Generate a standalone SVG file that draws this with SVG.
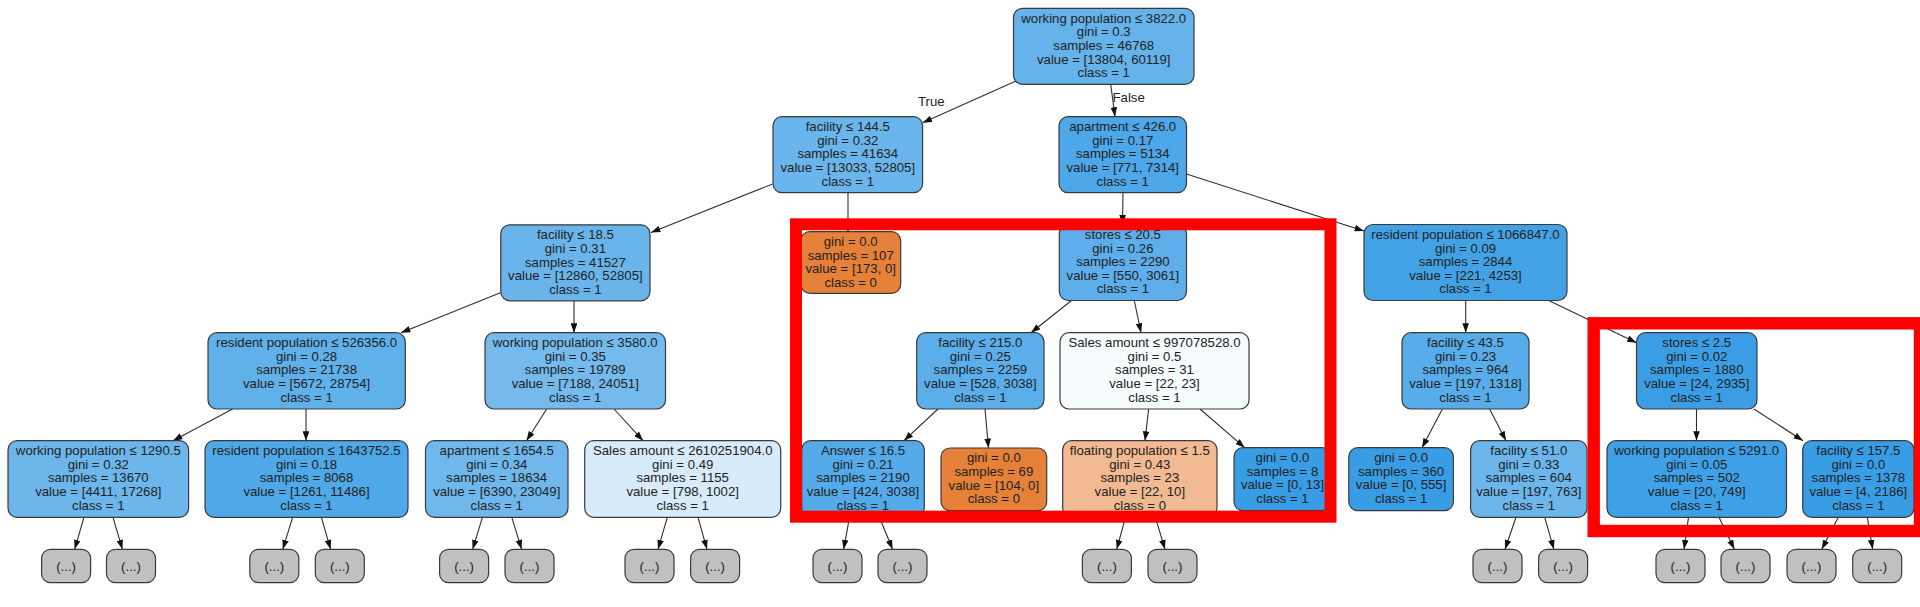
<svg xmlns="http://www.w3.org/2000/svg" width="1920" height="607" viewBox="0 0 1920 607">
<defs>
<style>
.nd rect{stroke:#3a3a3a;stroke-width:1.2}
.nd text,.lbl{font-family:"Liberation Sans",Arial,sans-serif;font-size:13.2px;fill:#222}
.nd text{text-anchor:middle}
.lf rect{fill:#c0c0c0}
#edges line{stroke:#2e2e2e;stroke-width:1.1;marker-end:url(#ah)}
.hl{fill:none;stroke:#ff0000}
</style>
<marker id="ah" viewBox="0 0 10 7" refX="10" refY="3.5" markerWidth="9.5" markerHeight="6.6" markerUnits="userSpaceOnUse" orient="auto"><path d="M0,0L10,3.5L0,7z" fill="#111"/></marker>
</defs>
<rect width="1920" height="607" fill="#fff"/>
<g id="edges">
<line x1="1016" y1="81" x2="922.6" y2="122.7"/>
<line x1="1110.7" y1="84.3" x2="1115" y2="116.7"/>
<line x1="772.6" y1="184" x2="651" y2="232.5"/>
<line x1="848" y1="192.7" x2="848" y2="231.7"/>
<line x1="1123" y1="192.7" x2="1122.5" y2="224.5"/>
<line x1="1186.5" y1="174" x2="1364" y2="231"/>
<line x1="501" y1="292.5" x2="401" y2="332.7"/>
<line x1="574" y1="301" x2="574" y2="332.7"/>
<line x1="1071.5" y1="300.5" x2="1031" y2="332.7"/>
<line x1="1134.3" y1="300.5" x2="1141" y2="332.7"/>
<line x1="1465.7" y1="300.5" x2="1465.7" y2="332.7"/>
<line x1="1547.7" y1="300" x2="1636.5" y2="342.7"/>
<line x1="232.6" y1="409" x2="173" y2="440.7"/>
<line x1="306" y1="409" x2="306" y2="440.7"/>
<line x1="546.7" y1="409" x2="526.5" y2="440.7"/>
<line x1="614" y1="409" x2="643" y2="440.7"/>
<line x1="938" y1="409" x2="904" y2="440.7"/>
<line x1="985" y1="409" x2="988.5" y2="448"/>
<line x1="1148.6" y1="409" x2="1145" y2="440.7"/>
<line x1="1200" y1="409" x2="1244.7" y2="447.7"/>
<line x1="1442.4" y1="409" x2="1422" y2="447.7"/>
<line x1="1489.6" y1="409" x2="1506" y2="440.7"/>
<line x1="1696.5" y1="409" x2="1696.5" y2="440.7"/>
<line x1="1754" y1="409" x2="1803" y2="440.7"/>
<line x1="83.9" y1="517.3" x2="74.7" y2="549.3"/>
<line x1="113" y1="517.3" x2="122.4" y2="549.3"/>
<line x1="292.6" y1="517.3" x2="282.8" y2="549.3"/>
<line x1="321.4" y1="517.3" x2="330.6" y2="549.3"/>
<line x1="482.4" y1="517.3" x2="472.6" y2="549.3"/>
<line x1="511.8" y1="517.3" x2="521.6" y2="549.3"/>
<line x1="667.3" y1="517.3" x2="658" y2="549.3"/>
<line x1="698" y1="517.3" x2="707" y2="549.3"/>
<line x1="849.5" y1="517.3" x2="843.6" y2="549.3"/>
<line x1="879.4" y1="517.3" x2="892.6" y2="549.3"/>
<line x1="1125.5" y1="517.3" x2="1116.7" y2="549.3"/>
<line x1="1155.4" y1="517.3" x2="1165" y2="549.3"/>
<line x1="1516" y1="517.3" x2="1505" y2="549.3"/>
<line x1="1544.7" y1="517.3" x2="1553.9" y2="549.3"/>
<line x1="1688.5" y1="517.3" x2="1684" y2="549.3"/>
<line x1="1719" y1="517.3" x2="1734.4" y2="549.3"/>
<line x1="1838.3" y1="517.3" x2="1821.7" y2="549.3"/>
<line x1="1867.3" y1="517.3" x2="1872.7" y2="549.3"/>
<text class="lbl" x="918" y="105.5">True</text>
<text class="lbl" x="1112.5" y="101.7">False</text>
</g>

<g id="n_root" class="nd"><rect x="1013.5" y="8.3" width="180.5" height="76" rx="9" fill="#66b3eb"/>
<text x="1103.75" y="22.8">working population ≤ 3822.0<tspan x="1103.75" dy="13.6">gini = 0.3</tspan><tspan x="1103.75" dy="13.6">samples = 46768</tspan><tspan x="1103.75" dy="13.6">value = [13804, 60119]</tspan><tspan x="1103.75" dy="13.6">class = 1</tspan></text></g>

<g id="n_fac144" class="nd"><rect x="773" y="116.7" width="149.6" height="76" rx="9" fill="#6ab5eb"/>
<text x="847.8" y="131.2">facility ≤ 144.5<tspan x="847.8" dy="13.6">gini = 0.32</tspan><tspan x="847.8" dy="13.6">samples = 41634</tspan><tspan x="847.8" dy="13.6">value = [13033, 52805]</tspan><tspan x="847.8" dy="13.6">class = 1</tspan></text></g>

<g id="n_apt426" class="nd"><rect x="1059" y="116.7" width="127.5" height="76" rx="9" fill="#4ea7e8"/>
<text x="1122.75" y="131.2">apartment ≤ 426.0<tspan x="1122.75" dy="13.6">gini = 0.17</tspan><tspan x="1122.75" dy="13.6">samples = 5134</tspan><tspan x="1122.75" dy="13.6">value = [771, 7314]</tspan><tspan x="1122.75" dy="13.6">class = 1</tspan></text></g>

<g id="n_fac18" class="nd"><rect x="500.8" y="224.8" width="149.2" height="76" rx="9" fill="#69b5eb"/>
<text x="575.4" y="239.3">facility ≤ 18.5<tspan x="575.4" dy="13.6">gini = 0.31</tspan><tspan x="575.4" dy="13.6">samples = 41527</tspan><tspan x="575.4" dy="13.6">value = [12860, 52805]</tspan><tspan x="575.4" dy="13.6">class = 1</tspan></text></g>

<g id="n_g107" class="nd"><rect x="800.7" y="231.7" width="100" height="61.6" rx="9" fill="#e58139"/>
<text x="850.7" y="246">gini = 0.0<tspan x="850.7" dy="13.6">samples = 107</tspan><tspan x="850.7" dy="13.6">value = [173, 0]</tspan><tspan x="850.7" dy="13.6">class = 0</tspan></text></g>

<g id="n_st20" class="nd"><rect x="1059.3" y="224.5" width="127.2" height="76" rx="9" fill="#5daeea"/>
<text x="1122.9" y="239">stores ≤ 20.5<tspan x="1122.9" dy="13.6">gini = 0.26</tspan><tspan x="1122.9" dy="13.6">samples = 2290</tspan><tspan x="1122.9" dy="13.6">value = [550, 3061]</tspan><tspan x="1122.9" dy="13.6">class = 1</tspan></text></g>

<g id="n_res1066" class="nd"><rect x="1364" y="224.5" width="203" height="76" rx="9" fill="#43a2e6"/>
<text x="1465.5" y="239">resident population ≤ 1066847.0<tspan x="1465.5" dy="13.6">gini = 0.09</tspan><tspan x="1465.5" dy="13.6">samples = 2844</tspan><tspan x="1465.5" dy="13.6">value = [221, 4253]</tspan><tspan x="1465.5" dy="13.6">class = 1</tspan></text></g>

<g id="n_res526" class="nd"><rect x="208" y="332.7" width="197.3" height="76.3" rx="9" fill="#60b0ea"/>
<text x="306.6" y="347.2">resident population ≤ 526356.0<tspan x="306.6" dy="13.6">gini = 0.28</tspan><tspan x="306.6" dy="13.6">samples = 21738</tspan><tspan x="306.6" dy="13.6">value = [5672, 28754]</tspan><tspan x="306.6" dy="13.6">class = 1</tspan></text></g>

<g id="n_wp3580" class="nd"><rect x="485" y="332.7" width="180.5" height="76.3" rx="9" fill="#74baed"/>
<text x="575.25" y="347.2">working population ≤ 3580.0<tspan x="575.25" dy="13.6">gini = 0.35</tspan><tspan x="575.25" dy="13.6">samples = 19789</tspan><tspan x="575.25" dy="13.6">value = [7188, 24051]</tspan><tspan x="575.25" dy="13.6">class = 1</tspan></text></g>

<g id="n_fac215" class="nd"><rect x="916.7" y="332.7" width="127.3" height="76.3" rx="9" fill="#5baeea"/>
<text x="980.35" y="347.2">facility ≤ 215.0<tspan x="980.35" dy="13.6">gini = 0.25</tspan><tspan x="980.35" dy="13.6">samples = 2259</tspan><tspan x="980.35" dy="13.6">value = [528, 3038]</tspan><tspan x="980.35" dy="13.6">class = 1</tspan></text></g>

<g id="n_sa997" class="nd"><rect x="1060" y="332.7" width="189" height="76.3" rx="9" fill="#f6fbfe"/>
<text x="1154.5" y="347.2">Sales amount ≤ 997078528.0<tspan x="1154.5" dy="13.6">gini = 0.5</tspan><tspan x="1154.5" dy="13.6">samples = 31</tspan><tspan x="1154.5" dy="13.6">value = [22, 23]</tspan><tspan x="1154.5" dy="13.6">class = 1</tspan></text></g>

<g id="n_fac43" class="nd"><rect x="1402" y="332.7" width="127" height="76.3" rx="9" fill="#57ace9"/>
<text x="1465.5" y="347.2">facility ≤ 43.5<tspan x="1465.5" dy="13.6">gini = 0.23</tspan><tspan x="1465.5" dy="13.6">samples = 964</tspan><tspan x="1465.5" dy="13.6">value = [197, 1318]</tspan><tspan x="1465.5" dy="13.6">class = 1</tspan></text></g>

<g id="n_st2" class="nd"><rect x="1636.5" y="332.7" width="120.5" height="76.3" rx="9" fill="#3b9ee5"/>
<text x="1696.75" y="347.2">stores ≤ 2.5<tspan x="1696.75" dy="13.6">gini = 0.02</tspan><tspan x="1696.75" dy="13.6">samples = 1880</tspan><tspan x="1696.75" dy="13.6">value = [24, 2935]</tspan><tspan x="1696.75" dy="13.6">class = 1</tspan></text></g>

<g id="n_wp1290" class="nd"><rect x="8" y="440.7" width="180.6" height="76.6" rx="9" fill="#6cb6ec"/>
<text x="98.3" y="455.2">working population ≤ 1290.5<tspan x="98.3" dy="13.6">gini = 0.32</tspan><tspan x="98.3" dy="13.6">samples = 13670</tspan><tspan x="98.3" dy="13.6">value = [4411, 17268]</tspan><tspan x="98.3" dy="13.6">class = 1</tspan></text></g>

<g id="n_res1643" class="nd"><rect x="205" y="440.7" width="203" height="76.6" rx="9" fill="#4fa8e8"/>
<text x="306.5" y="455.2">resident population ≤ 1643752.5<tspan x="306.5" dy="13.6">gini = 0.18</tspan><tspan x="306.5" dy="13.6">samples = 8068</tspan><tspan x="306.5" dy="13.6">value = [1261, 11486]</tspan><tspan x="306.5" dy="13.6">class = 1</tspan></text></g>

<g id="n_apt1654" class="nd"><rect x="425.5" y="440.7" width="142.5" height="76.6" rx="9" fill="#70b8ec"/>
<text x="496.75" y="455.2">apartment ≤ 1654.5<tspan x="496.75" dy="13.6">gini = 0.34</tspan><tspan x="496.75" dy="13.6">samples = 18634</tspan><tspan x="496.75" dy="13.6">value = [6390, 23049]</tspan><tspan x="496.75" dy="13.6">class = 1</tspan></text></g>

<g id="n_sa2610" class="nd"><rect x="584.7" y="440.7" width="196" height="76.6" rx="9" fill="#d7ebfa"/>
<text x="682.7" y="455.2">Sales amount ≤ 2610251904.0<tspan x="682.7" dy="13.6">gini = 0.49</tspan><tspan x="682.7" dy="13.6">samples = 1155</tspan><tspan x="682.7" dy="13.6">value = [798, 1002]</tspan><tspan x="682.7" dy="13.6">class = 1</tspan></text></g>

<g id="n_ans" class="nd"><rect x="801.7" y="440.7" width="122.6" height="76.6" rx="9" fill="#55abe9"/>
<text x="863" y="455.2">Answer ≤ 16.5<tspan x="863" dy="13.6">gini = 0.21</tspan><tspan x="863" dy="13.6">samples = 2190</tspan><tspan x="863" dy="13.6">value = [424, 3038]</tspan><tspan x="863" dy="13.6">class = 1</tspan></text></g>

<g id="n_g69" class="nd"><rect x="941" y="448" width="105.7" height="62.7" rx="9" fill="#e58139"/>
<text x="993.85" y="462.3">gini = 0.0<tspan x="993.85" dy="13.6">samples = 69</tspan><tspan x="993.85" dy="13.6">value = [104, 0]</tspan><tspan x="993.85" dy="13.6">class = 0</tspan></text></g>

<g id="n_float" class="nd"><rect x="1062.7" y="440.7" width="154.3" height="76.6" rx="9" fill="#f1ba93"/>
<text x="1139.85" y="455.2">floating population ≤ 1.5<tspan x="1139.85" dy="13.6">gini = 0.43</tspan><tspan x="1139.85" dy="13.6">samples = 23</tspan><tspan x="1139.85" dy="13.6">value = [22, 10]</tspan><tspan x="1139.85" dy="13.6">class = 0</tspan></text></g>

<g id="n_g8" class="nd"><rect x="1234" y="447.7" width="97" height="63" rx="9" fill="#399de5"/>
<text x="1282.5" y="462">gini = 0.0<tspan x="1282.5" dy="13.6">samples = 8</tspan><tspan x="1282.5" dy="13.6">value = [0, 13]</tspan><tspan x="1282.5" dy="13.6">class = 1</tspan></text></g>

<g id="n_g360" class="nd"><rect x="1348.8" y="447.7" width="104.6" height="63" rx="9" fill="#399de5"/>
<text x="1401.1" y="462">gini = 0.0<tspan x="1401.1" dy="13.6">samples = 360</tspan><tspan x="1401.1" dy="13.6">value = [0, 555]</tspan><tspan x="1401.1" dy="13.6">class = 1</tspan></text></g>

<g id="n_fac51" class="nd"><rect x="1470.6" y="440.7" width="116.4" height="76.6" rx="9" fill="#6cb6ec"/>
<text x="1528.8" y="455.2">facility ≤ 51.0<tspan x="1528.8" dy="13.6">gini = 0.33</tspan><tspan x="1528.8" dy="13.6">samples = 604</tspan><tspan x="1528.8" dy="13.6">value = [197, 763]</tspan><tspan x="1528.8" dy="13.6">class = 1</tspan></text></g>

<g id="n_wp5291" class="nd"><rect x="1607" y="440.7" width="179.5" height="76.6" rx="9" fill="#3ea0e6"/>
<text x="1696.75" y="455.2">working population ≤ 5291.0<tspan x="1696.75" dy="13.6">gini = 0.05</tspan><tspan x="1696.75" dy="13.6">samples = 502</tspan><tspan x="1696.75" dy="13.6">value = [20, 749]</tspan><tspan x="1696.75" dy="13.6">class = 1</tspan></text></g>

<g id="n_fac157" class="nd"><rect x="1802.7" y="440.7" width="111.3" height="76.6" rx="9" fill="#399de5"/>
<text x="1858.35" y="455.2">facility ≤ 157.5<tspan x="1858.35" dy="13.6">gini = 0.0</tspan><tspan x="1858.35" dy="13.6">samples = 1378</tspan><tspan x="1858.35" dy="13.6">value = [4, 2186]</tspan><tspan x="1858.35" dy="13.6">class = 1</tspan></text></g>

<g id="leaf1" class="nd lf"><rect x="41.6" y="549.3" width="49" height="33.4" rx="9"/><text x="66.1" y="571">(...)</text></g>
<g id="leaf2" class="nd lf"><rect x="106.5" y="549.3" width="49" height="33.4" rx="9"/><text x="131" y="571">(...)</text></g>
<g id="leaf3" class="nd lf"><rect x="249.8" y="549.3" width="49" height="33.4" rx="9"/><text x="274.3" y="571">(...)</text></g>
<g id="leaf4" class="nd lf"><rect x="315.3" y="549.3" width="49" height="33.4" rx="9"/><text x="339.8" y="571">(...)</text></g>
<g id="leaf5" class="nd lf"><rect x="439.6" y="549.3" width="49" height="33.4" rx="9"/><text x="464.1" y="571">(...)</text></g>
<g id="leaf6" class="nd lf"><rect x="505" y="549.3" width="49" height="33.4" rx="9"/><text x="529.5" y="571">(...)</text></g>
<g id="leaf7" class="nd lf"><rect x="625" y="549.3" width="49" height="33.4" rx="9"/><text x="649.5" y="571">(...)</text></g>
<g id="leaf8" class="nd lf"><rect x="690.6" y="549.3" width="49" height="33.4" rx="9"/><text x="715.1" y="571">(...)</text></g>
<g id="leaf9" class="nd lf"><rect x="813" y="549.3" width="49" height="33.4" rx="9"/><text x="837.5" y="571">(...)</text></g>
<g id="leaf10" class="nd lf"><rect x="878" y="549.3" width="49" height="33.4" rx="9"/><text x="902.5" y="571">(...)</text></g>
<g id="leaf11" class="nd lf"><rect x="1082.4" y="549.3" width="49" height="33.4" rx="9"/><text x="1106.9" y="571">(...)</text></g>
<g id="leaf12" class="nd lf"><rect x="1148" y="549.3" width="49" height="33.4" rx="9"/><text x="1172.5" y="571">(...)</text></g>
<g id="leaf13" class="nd lf"><rect x="1473" y="549.3" width="49" height="33.4" rx="9"/><text x="1497.5" y="571">(...)</text></g>
<g id="leaf14" class="nd lf"><rect x="1538.6" y="549.3" width="49" height="33.4" rx="9"/><text x="1563.1" y="571">(...)</text></g>
<g id="leaf15" class="nd lf"><rect x="1656" y="549.3" width="49" height="33.4" rx="9"/><text x="1680.5" y="571">(...)</text></g>
<g id="leaf16" class="nd lf"><rect x="1721" y="549.3" width="49" height="33.4" rx="9"/><text x="1745.5" y="571">(...)</text></g>
<g id="leaf17" class="nd lf"><rect x="1787" y="549.3" width="49" height="33.4" rx="9"/><text x="1811.5" y="571">(...)</text></g>
<g id="leaf18" class="nd lf"><rect x="1852.7" y="549.3" width="49" height="33.4" rx="9"/><text x="1877.2" y="571">(...)</text></g>

<g id="highlights">
<rect class="hl" x="796" y="224.3" width="534.5" height="292.4" stroke-width="12"/>
<rect class="hl" x="1593.7" y="323.3" width="326.3" height="207.7" stroke-width="12.4"/>
</g>
</svg>
